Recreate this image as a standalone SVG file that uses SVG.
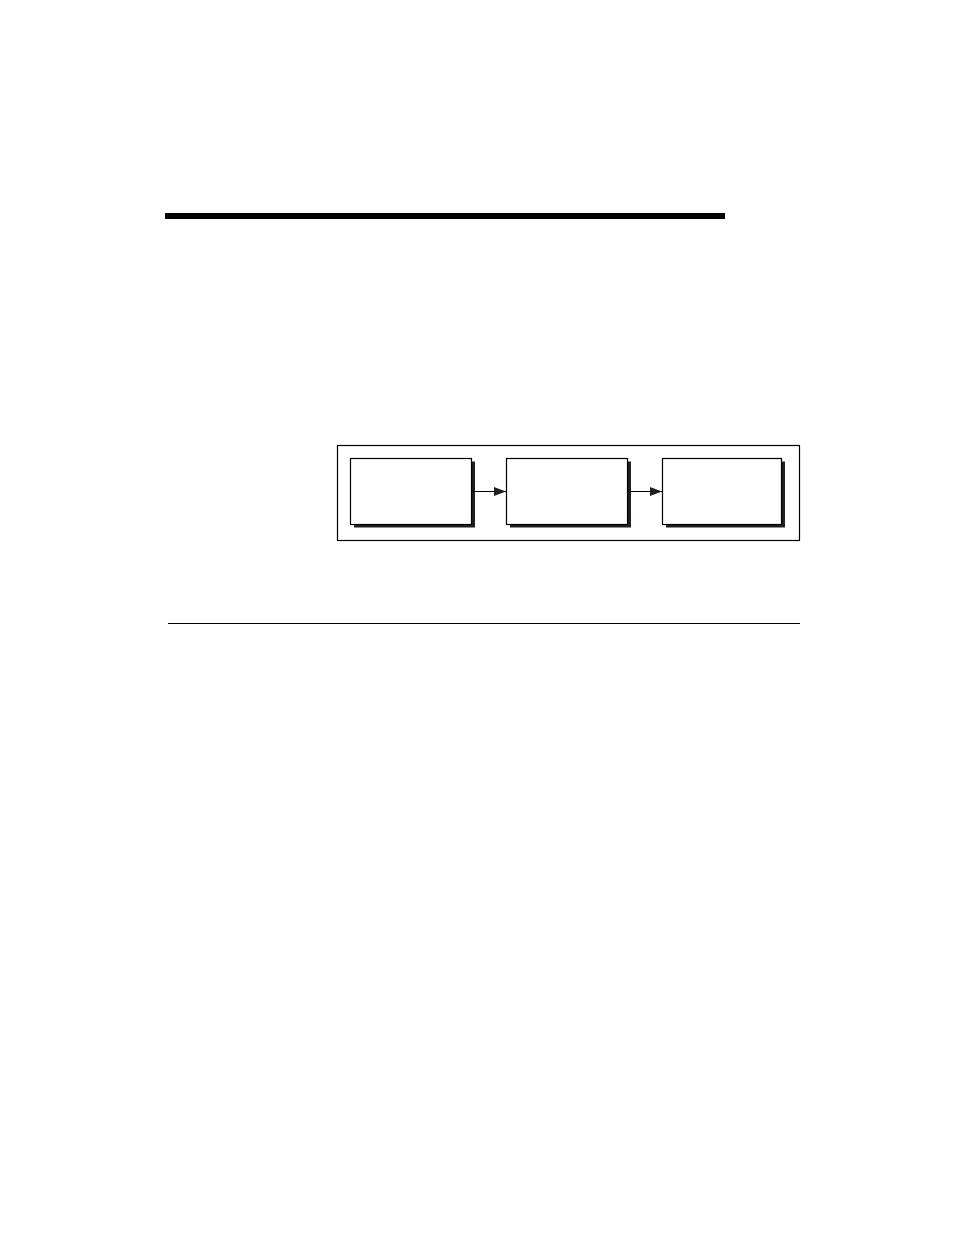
<svg xmlns="http://www.w3.org/2000/svg" width="954" height="1235" viewBox="0 0 954 1235">
<defs>
<style>
.box{fill:#fff;stroke:#000;stroke-width:1.2}
.shadow{fill:#231f20}
.conn{stroke:#000;stroke-width:1.2;fill:none}
</style>
<marker id="ah" markerUnits="userSpaceOnUse" markerWidth="12" markerHeight="10" refX="12" refY="5" orient="auto">
<path d="M0,0.5 L12,5 L0,9.5 Z" fill="#231f20"/>
</marker>
</defs>
<rect width="954" height="1235" fill="#fff"/>
<rect x="165" y="213" width="560" height="6" fill="#000"/>
<line x1="168" y1="623.5" x2="800" y2="623.5" stroke="#000" stroke-width="1.2"/>
<rect id="frame" x="337.5" y="445.5" width="462" height="95" fill="none" stroke="#000" stroke-width="1.2"/>
<g id="node1">
<rect class="shadow" x="354" y="461.5" width="121" height="66"/>
<rect class="box" x="350.5" y="458.5" width="121" height="66"/>
</g>
<g id="node2">
<rect class="shadow" x="510" y="461.5" width="121" height="66"/>
<rect class="box" x="506.5" y="458.5" width="121" height="66"/>
</g>
<g id="node3">
<rect class="shadow" x="666" y="461.5" width="119" height="66"/>
<rect class="box" x="662.5" y="458.5" width="119" height="66"/>
</g>
<g id="connectors">
<line class="conn" x1="472" y1="491.5" x2="506" y2="491.5" marker-end="url(#ah)"/>
<line class="conn" x1="628" y1="491.5" x2="662" y2="491.5" marker-end="url(#ah)"/>
</g>
</svg>
